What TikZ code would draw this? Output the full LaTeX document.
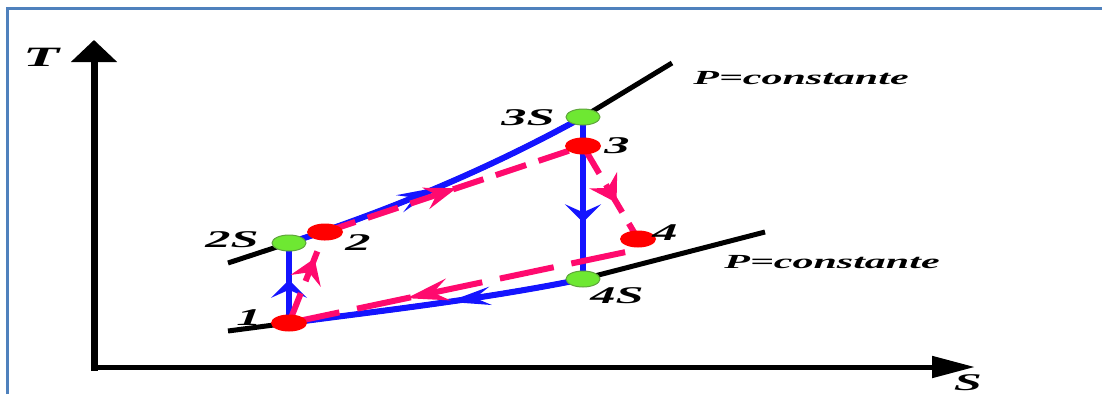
\documentclass[tikz,border=0pt]{standalone}
\usepackage{fontspec}
\newfontfamily\lblfont{Liberation Serif}[FakeStretch=2.1]
\usetikzlibrary{arrows.meta,shapes.geometric,decorations.markings}
\pgfdeclarelayer{bg}
\pgfsetlayers{bg,main}
\definecolor{frameblue}{RGB}{79,129,189}
\definecolor{cycblue}{RGB}{20,20,255}
\definecolor{realpink}{RGB}{255,10,110}
\definecolor{ptred}{RGB}{255,0,0}
\definecolor{ptgreen}{RGB}{110,232,50}
\definecolor{ptgreenedge}{RGB}{95,165,60}

\begin{document}
\begin{tikzpicture}[x=1pt, y=-1pt,
	lbl/.style={inner sep=0pt, font=\lblfont\bfseries\itshape\fontsize{24}{24}\selectfont},
	plbl/.style={inner sep=0pt, font=\lblfont\bfseries\itshape\fontsize{20}{20}\selectfont},
	pt/.style={ellipse, inner sep=0pt, minimum width=36pt, minimum height=17pt},
	realpt/.style={pt, fill=ptred},
	idealpt/.style={pt, fill=ptgreen, draw=ptgreenedge, line width=1pt, minimum width=34pt, minimum height=16pt},
	isobar/.style={line width=5pt},
	cycline/.style={cycblue, line width=6pt},
	realline/.style={realpink, line width=6pt, dash pattern=on 32pt off 13pt},
	midarrow/.style 2 args={postaction={decorate, decoration={markings, mark=at position #1 with {\arrow{#2}}}}}]
	\useasboundingbox (0,0) rectangle (1102,394);
	\draw[frameblue, line width=3pt] (7,394) -- (7,8) -- (1102,8);
	\coordinate (O) at (94,367);
	\coordinate (Ttip) at (94,40);
	\coordinate (Stip) at (975,367);
	\draw[line width=7pt, line cap=rect, -{Triangle[length=22pt, width=45pt]}] (O) -- (Ttip);
	\draw[line width=5pt, line cap=rect, -{Triangle[length=43pt, width=21pt]}] (O) -- (Stip);
	\node[lbl, font=\lblfont\bfseries\itshape\fontsize{28}{28}\selectfont] (Tl) at (41,57) {T};
	\node[lbl] (Sl) at (968,383) {S};
	\coordinate (hiL) at (228,263);
	\coordinate (hiR) at (672,63);
	\coordinate (loL) at (228,331);
	\coordinate (loR) at (765,232);
	\node[realpt] (p1) at (289,323) {};
	\node[idealpt] (p2S) at (289,243) {};
	\node[realpt] (p2) at (325,232) {};
	\node[idealpt] (p3S) at (583,117) {};
	\node[realpt] (p3) at (583,146) {};
	\node[realpt] (p4) at (638,239) {};
	\node[idealpt] (p4S) at (583,279) {};
	\node[lbl] (l1) at (249,318) {1};
	\node[lbl] (l2S) at (232,240) {2S};
	\node[lbl] (l2) at (358,243) {2};
	\node[lbl] (l3S) at (528,118) {3S};
	\node[lbl] (l3) at (617,146) {3};
	\node[lbl] (l4) at (665,233) {4};
	\node[lbl] (l4S) at (617,296) {4S};
	\node[plbl] (phi) at (801,78) {P=constante};
	\node[plbl] (plo) at (832,262) {P=constante};
	\begin{pgfonlayer}{bg}
		\draw[isobar] (hiL) -- (p2S.center) .. controls (387,211) and (485,171) .. (p3S.center) -- (hiR);
		\draw[isobar] (loL) -- (p1.center) .. controls (387,310) and (485,299) .. (p4S.center) -- (loR);
		\draw[cycline, midarrow={0.54}{Stealth[length=18pt, width=36pt, inset=8pt]}] (p1.center) -- (p2S.center);
		\draw[cycline, midarrow={0.5}{Stealth[length=42pt, width=18pt, inset=15pt]}] (p2S.center) .. controls (387,211) and (485,171) .. (p3S.center);
		\draw[cycline, midarrow={0.65}{Stealth[length=18pt, width=36pt, inset=8pt]}] (p3S.center) -- (p4S.center);
		\draw[cycline, midarrow={0.46}{Stealth[length=42pt, width=18pt, inset=15pt]}] (p4S.center) .. controls (485,299) and (387,310) .. (p1.center);
		\draw[realline, midarrow={0.71}{Stealth[length=24pt, width=32pt, inset=9pt]}] (p1.center) -- (p2.center);
		\draw[realline, midarrow={0.51}{Stealth[length=32pt, width=22pt, inset=11pt]}] (p2.center) -- (p3.center);
		\draw[realline, midarrow={0.61}{Stealth[length=26pt, width=32pt, inset=9pt]}] (p3.center) -- (p4.center);
		\draw[realline, dash pattern=on 55pt off 18pt, midarrow={0.65}{Stealth[length=42pt, width=22pt, inset=15pt]}] ([yshift=-7pt]p4.south west) -- (p1.center);
	\end{pgfonlayer}
\end{tikzpicture}
\end{document}
